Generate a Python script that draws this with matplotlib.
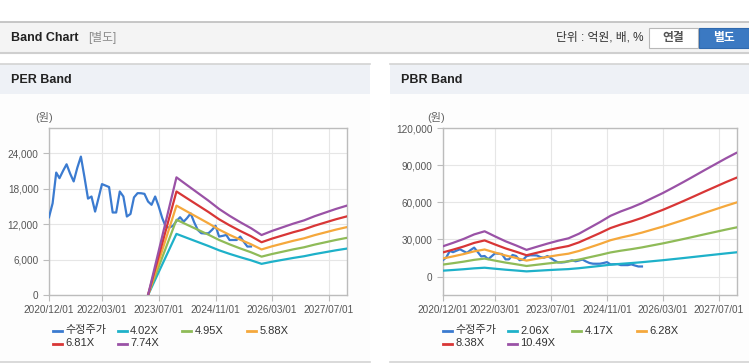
import pandas as pd
import matplotlib
matplotlib.use('Agg')
import matplotlib.pyplot as plt
import matplotlib.dates as mdates
from matplotlib.patches import Rectangle
from matplotlib.lines import Line2D
from matplotlib.ticker import FuncFormatter

plt.rcParams['font.family'] = ['Liberation Sans', 'Noto Sans CJK KR']

W, H = 749, 364

# adjusted close, monthly from 2020/12
price = [13150, 15500, 20700, 19750, 21000, 22100, 20500, 19200, 21500, 23400,
         20000, 16300, 16650, 14100, 16500, 18750, 18500, 18250, 13950, 13950,
         17500, 16650, 13270, 13700, 16500, 17220, 17200, 17100, 15800, 15250,
         16650, 15000, 13000, 11500, 11400, 11700, 12500, 13150, 12400, 13000,
         13800, 12300, 11000, 10450, 10400, 10450, 11000, 11700, 9880, 10000,
         10150, 9300, 9300, 9300, 9880, 9000, 8190, 8200]
price_dates = pd.date_range('2020-12-01', periods=len(price), freq='MS')

# PER band base (EPS)
per_dates = pd.to_datetime(['2023-04-01', '2023-12-01', '2024-03-01', '2024-06-01',
                            '2024-09-01', '2024-12-01', '2025-03-01', '2025-06-01',
                            '2025-09-01', '2025-12-01', '2026-03-01', '2026-06-01',
                            '2026-09-01', '2026-12-01', '2027-03-01', '2027-06-01',
                            '2027-09-01', '2027-12-01'])
per_eps = [0, 2570, 2400, 2230, 2060, 1880, 1730, 1590, 1460, 1310,
           1400, 1480, 1560, 1630, 1720, 1800, 1880, 1950]
per_mult = [4.02, 4.95, 5.88, 6.81, 7.74]

# PBR band base (BPS)
pbr_dates = pd.to_datetime(['2020-12-01', '2021-03-01', '2021-06-01', '2021-09-01',
                            '2021-12-01', '2022-03-01', '2022-06-01', '2022-09-01',
                            '2022-12-01', '2023-03-01', '2023-06-01', '2023-09-01',
                            '2023-12-01', '2024-03-01', '2024-06-01', '2024-09-01',
                            '2024-12-01', '2025-03-01', '2025-06-01', '2025-09-01',
                            '2025-12-01', '2026-03-01', '2026-06-01', '2026-09-01',
                            '2026-12-01', '2027-03-01', '2027-06-01', '2027-09-01',
                            '2027-12-01'])
pbr_bps = [2330, 2600, 2900, 3250, 3490, 3100, 2720, 2400, 2060, 2300,
           2540, 2760, 2950, 3300, 3750, 4200, 4680, 5020, 5320, 5660,
           6050, 6430, 6860, 7300, 7750, 8200, 8650, 9100, 9520]
pbr_mult = [2.06, 4.17, 6.28, 8.38, 10.49]

band_colors = ['#1eb1c9', '#8fbb58', '#f5a83c', '#d83636', '#9a52a6']
price_color = '#3b7bd0'

xticks = pd.to_datetime(['2020-12-01', '2022-03-01', '2023-07-01',
                         '2024-11-01', '2026-03-01', '2027-07-01'])


def fx(x):
    return x / W


def fy(y):
    return 1 - y / H


def rect(fig, x0, y0, x1, y1, color, ec='none', lw=0):
    fig.add_artist(Rectangle((fx(x0), fy(y1)), fx(x1) - fx(x0), fy(y0) - fy(y1),
                             transform=fig.transFigure, facecolor=color,
                             edgecolor=ec, linewidth=lw, zorder=0))


def hline(fig, x0, x1, y, color, lw=1.0):
    fig.add_artist(Line2D([fx(x0), fx(x1)], [fy(y), fy(y)], transform=fig.transFigure,
                          color=color, linewidth=lw, zorder=1))


fig = plt.figure(figsize=(W / 100, H / 100), dpi=100)
fig.patch.set_facecolor('white')

# top header bar
rect(fig, 0, 22, W, 52, '#f4f4f4')
hline(fig, 0, W, 22, '#bdbdbd', 1.2)
hline(fig, 0, W, 52.5, '#cfcfcf', 1.5)
fig.text(fx(11), fy(38), 'Band Chart', fontsize=9, fontweight='bold', color='#222222', va='center')
fig.text(fx(88), fy(38), '[별도]', fontsize=8.5, color='#8a8a8a', va='center')
fig.text(fx(643), fy(38), '단위 : 억원, 배, %', fontsize=8.5, color='#333333', va='center', ha='right')
rect(fig, 649, 28, 698, 48, 'white', ec='#b8b8b8', lw=0.8)
fig.text(fx(673.5), fy(38), '연결', fontsize=8.5, color='#555555', va='center', ha='center', fontweight='bold')
rect(fig, 699, 28, 749, 48, '#3b79c2', ec='#2f69ae', lw=0.8)
fig.text(fx(724), fy(38), '별도', fontsize=8.5, color='white', va='center', ha='center', fontweight='bold')

# panels
for x0, x1, title in [(0, 370, 'PER Band'), (390, W, 'PBR Band')]:
    rect(fig, x0, 94, x1, 362, '#fdfdfd')
    rect(fig, x0, 64, x1, 94, '#eef1f6')
    hline(fig, x0, x1, 64, '#d3d3d3', 1.2)
    hline(fig, x0, x1, 362, '#d3d3d3', 1.2)
    fig.text(fx(x0 + 11), fy(80), title, fontsize=9, fontweight='bold', color='#222222', va='center')


def draw_panel(left, right, ylim, yticks, band_dates, base, mults, unit_x):
    ax = fig.add_axes([fx(left), fy(295), fx(right) - fx(left), fy(128) - fy(295)])
    ax.set_facecolor('white')
    ax.plot(price_dates, price, color=price_color, lw=1.6, zorder=3)
    for m, c in zip(mults, band_colors):
        ax.plot(band_dates, [b * m for b in base], color=c, lw=1.6, zorder=4)
    ax.set_xlim(pd.Timestamp('2020-12-01'), pd.Timestamp('2027-12-05'))
    ax.set_ylim(*ylim)
    ax.set_xticks(xticks)
    ax.xaxis.set_major_formatter(mdates.DateFormatter('%Y/%m/%d'))
    ax.set_yticks(yticks)
    ax.yaxis.set_major_formatter(FuncFormatter(lambda v, p: f'{int(v):,}'))
    ax.grid(True, color='#e6e6e6', lw=0.8)
    ax.set_axisbelow(True)
    for s in ax.spines.values():
        s.set_color('#bcbcbc')
        s.set_linewidth(1.0)
    ax.tick_params(colors='#bcbcbc', labelcolor='#555555', labelsize=7.2, length=4, width=0.8)
    fig.text(fx(unit_x), fy(118), '(원)', fontsize=8, color='#666666', ha='center', va='center')
    return ax


draw_panel(49, 347, (0, 28235), [0, 6000, 12000, 18000, 24000],
           per_dates, per_eps, per_mult, 44)
draw_panel(442.7, 736.7, (-14830, 120000), [0, 30000, 60000, 90000, 120000],
           pbr_dates, pbr_bps, pbr_mult, 436)

# legends
for left, mults in [(53, per_mult), (443, pbr_mult)]:
    labels = ['수정주가'] + [f'{m:.2f}X' for m in mults]
    colors = [price_color] + band_colors
    for i, (lab, c) in enumerate(zip(labels, colors)):
        x0 = left + (i % 4) * 64.7
        y = 330.5 if i < 4 else 343.5
        fig.add_artist(Line2D([fx(x0), fx(x0 + 9)], [fy(y), fy(y)], transform=fig.transFigure,
                              color=c, linewidth=2))
        fig.text(fx(x0 + 12.5), fy(y), lab, fontsize=8, color='#333333', va='center')

fig.savefig('out.png', dpi=100)
